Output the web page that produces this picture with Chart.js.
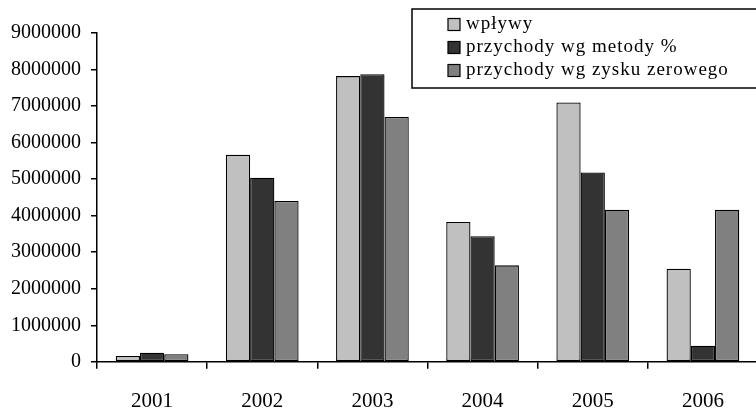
<!DOCTYPE html>
<html>
<head>
<meta charset="utf-8">
<script src="https://cdn.jsdelivr.net/npm/chart.js@4/dist/chart.umd.min.js"></script>
<style>
  html, body { margin: 0; padding: 0; background: #fff; overflow: hidden; }
  #wrap { width: 762px; height: 410px; }
</style>
</head>
<body>
<div id="wrap"><canvas id="chart" width="762" height="410"></canvas></div>
<script>
const years = ['2001', '2002', '2003', '2004', '2005', '2006'];
const wplywy = [160000, 5670000, 7820000, 3830000, 7100000, 2550000];
const przychodyMetoda = [250000, 5040000, 7870000, 3440000, 5180000, 440000];
const przychodyZysk = [210000, 4400000, 6700000, 2640000, 4160000, 4160000];
const seriesNames = ['wpływy', 'przychody wg metody %', 'przychody wg zysku zerowego'];
const seriesColors = ['#c0c0c0', '#333333', '#808080'];

const fontFamily = '"Liberation Serif", "Times New Roman", serif';

// legend in a framed box, overlapping the top right of the plot
const boxLegend = {
  id: 'boxLegend',
  afterDraw(chart) {
    const ctx = chart.ctx;
    ctx.save();
    ctx.lineWidth = 1.5;
    ctx.strokeStyle = '#000';
    ctx.fillStyle = '#fff';
    ctx.fillRect(412, 9, 360, 79);
    ctx.strokeRect(412, 9, 360, 79);
    ctx.font = '19px ' + fontFamily;
    ctx.letterSpacing = '1px';
    ctx.textBaseline = 'middle';
    chart.data.datasets.forEach((ds, i) => {
      const y = 24.5 + i * 23;
      ctx.fillStyle = ds.backgroundColor;
      ctx.fillRect(448, y - 6, 12, 12);
      ctx.lineWidth = 1.2;
      ctx.strokeRect(448, y - 6, 12, 12);
      ctx.fillStyle = '#000';
      ctx.fillText(ds.label, 466, y);
    });
    ctx.restore();
  }
};

new Chart(document.getElementById('chart').getContext('2d'), {
  type: 'bar',
  data: {
    labels: years,
    datasets: [
      { label: seriesNames[0], data: wplywy, backgroundColor: seriesColors[0] },
      { label: seriesNames[1], data: przychodyMetoda, backgroundColor: seriesColors[1] },
      { label: seriesNames[2], data: przychodyZysk, backgroundColor: seriesColors[2] },
    ],
  },
  options: {
    responsive: false,
    animation: false,
    layout: { padding: { left: 1, top: 33, right: 4, bottom: -24 } },
    datasets: {
      bar: {
        borderColor: '#000',
        borderWidth: 1.3,
        borderSkipped: false,
        categoryPercentage: 0.66,
        barPercentage: 1.0,
      },
    },
    plugins: {
      legend: { display: false },
      tooltip: { enabled: false },
    },
    scales: {
      x: {
        offset: true,
        grid: {
          offset: true,
          drawOnChartArea: false,
          drawTicks: true,
          tickLength: 7,
          color: '#000',
          lineWidth: 1.5,
        },
        border: { color: '#000', width: 1.5 },
        ticks: { color: '#000', padding: 20, font: { family: fontFamily, size: 21 } },
      },
      y: {
        min: 0,
        max: 9000000,
        grid: {
          drawOnChartArea: false,
          drawTicks: true,
          tickLength: 6,
          color: '#000',
          lineWidth: 1.5,
        },
        border: { color: '#000', width: 1.5 },
        ticks: {
          stepSize: 1000000,
          color: '#000',
          padding: 10,
          font: { family: fontFamily, size: 20 },
          callback: (v) => String(v),
        },
      },
    },
  },
  plugins: [boxLegend],
});
</script>
</body>
</html>
